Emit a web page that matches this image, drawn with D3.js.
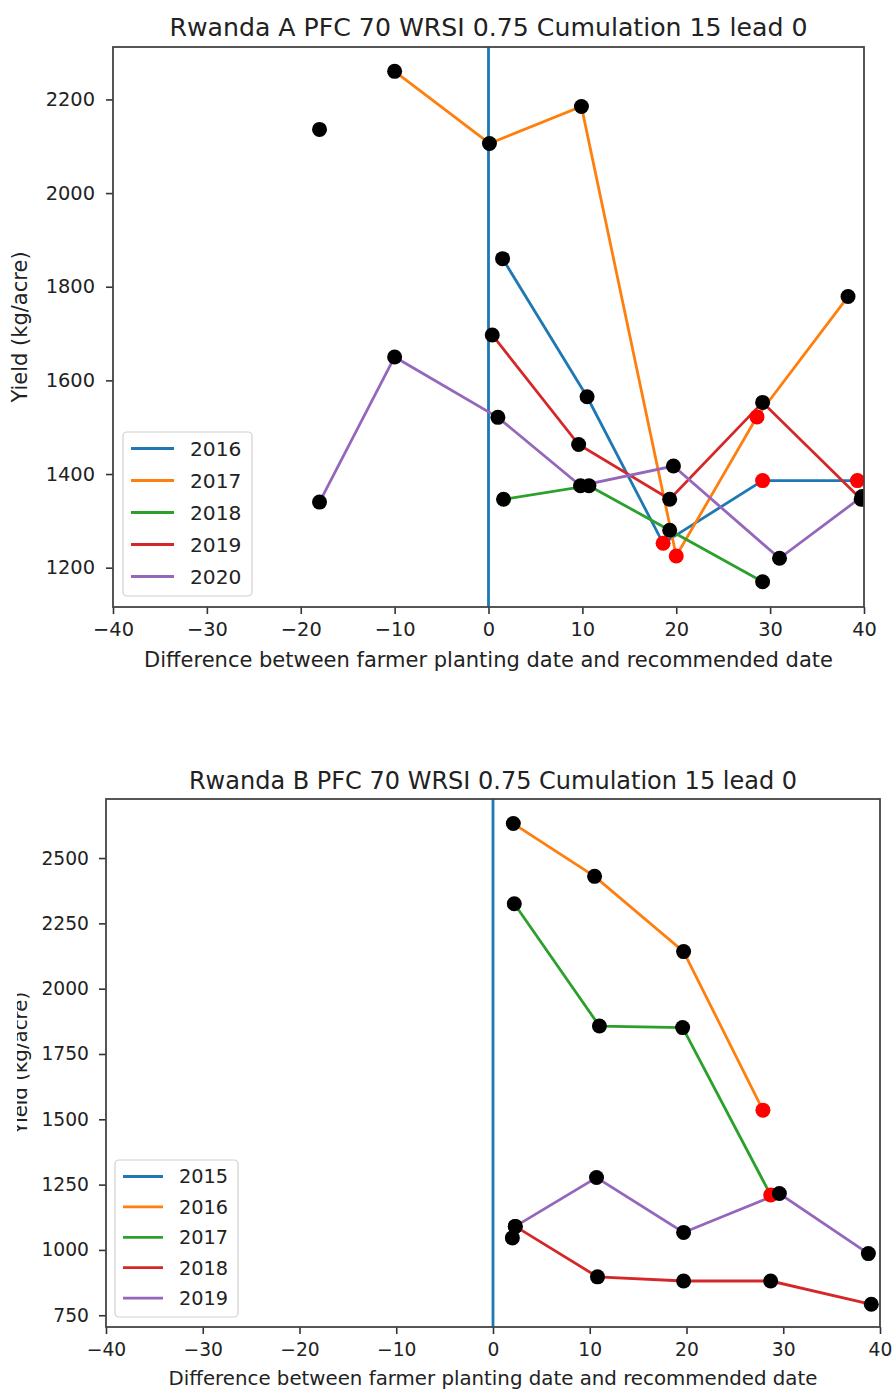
<html>
<head>
	<script src="https://d3js.org/d3.v7.min.js"></script>
	<style>
		body { margin: 0; background: white; }
		text { font-family: "DejaVu Sans", sans-serif; fill: #222; }
	</style>
</head>
<body>
<script>

// ---- shared ----
let xTicks = [-40, -30, -20, -10, 0, 10, 20, 30, 40];
let seriesColors = ["#1f77b4", "#ff7f0e", "#2ca02c", "#d62728", "#9467bd"];
let xLabel = "Difference between farmer planting date and recommended date";
let yLabel = "Yield (kg/acre)";

// ---- Rwanda A ----
let titleA = "Rwanda A PFC 70 WRSI 0.75 Cumulation 15 lead 0";
let yearsA = ["2016", "2017", "2018", "2019", "2020"];
let yTicksA = [1200, 1400, 1600, 1800, 2000, 2200];
let a2016 = [[1.5, 1860], [10.5, 1565], [18.6, 1252], [29.2, 1386], [39.3, 1386]];
let a2017 = [[-10, 2260], [0.1, 2106], [9.9, 2185], [20.0, 1225], [28.6, 1522], [38.3, 1779]];
let a2018 = [[1.6, 1346], [10.7, 1375], [19.3, 1280], [29.2, 1170]];
let a2019 = [[0.4, 1697], [9.6, 1463], [19.3, 1346], [29.2, 1553], [39.7, 1346]];
let a2020 = [[-18, 1340], [-10, 1650], [1.0, 1521], [9.8, 1375], [19.7, 1417], [31.0, 1220], [39.8, 1352]];
let aLoose = [[-18, 2136]];
let aRed = [[18.6, 1252], [29.2, 1386], [39.3, 1386], [20.0, 1225], [28.6, 1522]];

// ---- Rwanda B ----
let titleB = "Rwanda B PFC 70 WRSI 0.75 Cumulation 15 lead 0";
let yearsB = ["2015", "2016", "2017", "2018", "2019"];
let yTicksB = [750, 1000, 1250, 1500, 1750, 2000, 2250, 2500];
let b2015 = [];
let b2016 = [[2.1, 2632], [10.5, 2430], [19.7, 2142], [27.9, 1535]];
let b2017 = [[2.2, 2325], [11.0, 1857], [19.6, 1851], [28.7, 1210]];
let b2018 = [[2.3, 1090], [10.8, 897], [19.7, 881], [28.7, 881], [39.1, 792]];
let b2019 = [[2.3, 1090], [10.7, 1277], [19.7, 1067], [29.6, 1216], [38.8, 986]];
let bLoose = [[2.0, 1046]];
let bRed = [[27.9, 1535], [28.7, 1210]];

let svg = d3.select("body").append("svg")
	.attr("width", 893)
	.attr("height", 1391)
	.style("background-color", "white");

function drawChart(c) {
	let g = svg.append("g");

	let x = d3.scaleLinear().domain([-40, 40]).range([c.left, c.right]);
	let y = d3.scaleLinear().domain(c.yDomain).range([c.bottom, c.top]);

	let clipId = "clip" + c.id;
	svg.append("clipPath").attr("id", clipId)
		.append("rect")
		.attr("x", c.left).attr("y", c.top)
		.attr("width", c.right - c.left).attr("height", c.bottom - c.top);

	// axes
	let xAxis = g.append("g")
		.attr("transform", `translate(0,${c.bottom})`)
		.call(d3.axisBottom(x).tickValues(xTicks).tickSize(7).tickPadding(c.xPad)
			.tickFormat(d => d < 0 ? "\u2212" + Math.abs(d) : d));
	let yAxis = g.append("g")
		.attr("transform", `translate(${c.left},0)`)
		.call(d3.axisLeft(y).tickValues(c.yTicks).tickSize(7).tickPadding(c.yPad)
			.tickFormat(d3.format("d")));
	[xAxis, yAxis].forEach(a => {
		a.selectAll("text").attr("font-size", c.tickFont).attr("fill", "#2a2a2a")
			.attr("font-family", "DejaVu Sans");
		a.selectAll("line").attr("stroke", "#333").attr("stroke-width", 1.6);
		a.select(".domain").remove();
	});

	let plot = g.append("g").attr("clip-path", `url(#${clipId})`);

	// axvline at 0
	plot.append("line")
		.attr("x1", x(0)).attr("x2", x(0))
		.attr("y1", c.top).attr("y2", c.bottom)
		.attr("stroke", seriesColors[0])
		.attr("stroke-width", 2.8);

	let line = d3.line().x(d => x(d[0])).y(d => y(d[1]));

	c.series.forEach((s, i) => {
		plot.append("path")
			.datum(s)
			.attr("fill", "none")
			.attr("stroke", seriesColors[i])
			.attr("stroke-width", 2.8)
			.attr("d", line);
	});

	let isRed = p => c.red.some(r => r[0] == p[0] && r[1] == p[1]);

	plot.selectAll(".red")
		.data(c.red)
		.enter()
		.append("circle")
		.attr("cx", d => x(d[0]))
		.attr("cy", d => y(d[1]))
		.attr("r", 7.5)
		.attr("fill", "#ff0000");

	let black = [];
	c.series.forEach(s => s.forEach(p => { if (!isRed(p)) black.push(p); }));
	c.loose.forEach(p => black.push(p));

	plot.selectAll(".blk")
		.data(black)
		.enter()
		.append("circle")
		.attr("cx", d => x(d[0]))
		.attr("cy", d => y(d[1]))
		.attr("r", 7.5)
		.attr("fill", "black");

	// frame
	g.append("rect")
		.attr("x", c.left).attr("y", c.top)
		.attr("width", c.right - c.left).attr("height", c.bottom - c.top)
		.attr("fill", "none")
		.attr("stroke", "#444")
		.attr("stroke-width", 1.8);

	// titles
	g.append("text")
		.attr("x", (c.left + c.right) / 2)
		.attr("y", c.titleY)
		.attr("text-anchor", "middle")
		.attr("font-size", c.titleFont)
		.text(c.title);

	g.append("text")
		.attr("x", (c.left + c.right) / 2)
		.attr("y", c.xLabelY)
		.attr("text-anchor", "middle")
		.attr("font-size", c.labelFont)
		.text(xLabel);

	g.append("text")
		.attr("transform", `translate(${c.yLabelX},${(c.top + c.bottom) / 2}) rotate(-90)`)
		.attr("text-anchor", "middle")
		.attr("font-size", c.labelFont)
		.text(yLabel);

	// legend
	let lg = c.legend;
	g.append("rect")
		.attr("x", lg.x).attr("y", lg.y)
		.attr("width", lg.w).attr("height", lg.h)
		.attr("rx", 4)
		.attr("fill", "white").attr("fill-opacity", 0.8)
		.attr("stroke", "#d0d0d0").attr("stroke-width", 1.2);

	c.years.forEach((yr, i) => {
		let ly = lg.y + lg.first + i * lg.step;
		g.append("line")
			.attr("x1", lg.x + 8).attr("x2", lg.x + 8 + lg.handle)
			.attr("y1", ly).attr("y2", ly)
			.attr("stroke", seriesColors[i]).attr("stroke-width", 2.8);
		g.append("text")
			.attr("x", lg.x + lg.textX)
			.attr("y", ly)
			.attr("dy", "0.36em")
			.attr("font-size", lg.font)
			.text(yr);
	});
}

drawChart({
	id: "A", title: titleA, years: yearsA, yTicks: yTicksA,
	series: [a2016, a2017, a2018, a2019, a2020], loose: aLoose, red: aRed,
	left: 113, right: 864, top: 47, bottom: 607, yDomain: [1116, 2312],
	xPad: 8, yPad: 11, tickFont: 19.4, labelFont: 21, titleFont: 25.2,
	titleY: 36, xLabelY: 667, yLabelX: 27,
	legend: {x: 123, y: 432, w: 129, h: 164, first: 16.5, step: 32, handle: 43, textX: 67, font: 20.2}
});

drawChart({
	id: "B", title: titleB, years: yearsB, yTicks: yTicksB,
	series: [b2015, b2016, b2017, b2018, b2019], loose: bLoose, red: bRed,
	left: 106, right: 880, top: 799, bottom: 1327, yDomain: [705, 2726],
	xPad: 9, yPad: 10, tickFont: 18.7, labelFont: 19.8, titleFont: 24,
	titleY: 789, xLabelY: 1385, yLabelX: 27,
	legend: {x: 115, y: 1160, w: 123, h: 157, first: 16.5, step: 30.4, handle: 40, textX: 64, font: 19.3}
});

// the lower picture is cut at its left edge in the original
svg.append("rect")
	.attr("x", 0).attr("y", 960)
	.attr("width", 17).attr("height", 200)
	.attr("fill", "white");

</script>
</body>
</html>
